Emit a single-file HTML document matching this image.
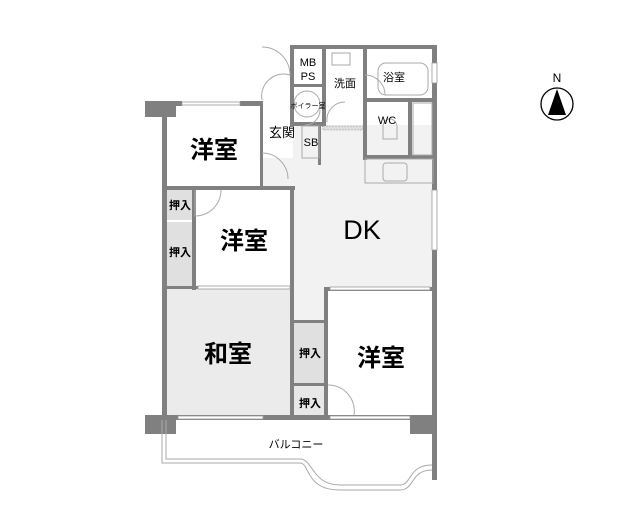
<!DOCTYPE html>
<html><head><meta charset="utf-8"><style>
html,body{margin:0;padding:0;background:#fff;}
svg{display:block;}
text{font-family:"Liberation Sans","Noto Sans CJK JP",sans-serif;fill:#000;}
</style></head><body>
<svg width="635" height="528" viewBox="0 0 635 528" xmlns="http://www.w3.org/2000/svg">
<rect x="165" y="104" width="97" height="84" fill="#fff"/>
<rect x="293" y="125" width="140" height="165" fill="#f2f2f2"/>
<rect x="262" y="158" width="32" height="30" fill="#f2f2f2"/>
<rect x="165" y="288" width="128" height="128" fill="#ebebeb"/>
<rect x="165" y="190" width="30" height="30" fill="#e0e0e0"/>
<rect x="165" y="222" width="30" height="65" fill="#e0e0e0"/>
<rect x="293" y="322" width="33" height="61" fill="#e0e0e0"/>
<rect x="293" y="385" width="33" height="31" fill="#e8e8e8"/>
<rect x="293" y="290" width="33" height="30" fill="#f2f2f2"/>
<g fill="#808080">
<rect x="145" y="101" width="31" height="16"/>
<rect x="162" y="101" width="5" height="318"/>
<rect x="176" y="101" width="6" height="5"/>
<rect x="240" y="101" width="22" height="5"/>
<rect x="260" y="101" width="3" height="88"/>
<rect x="165" y="186" width="130" height="4"/>
<rect x="192" y="190" width="4" height="100"/>
<rect x="290" y="186" width="4" height="232"/>
<rect x="165" y="286" width="128" height="3"/>
<rect x="324" y="287" width="112" height="4"/>
<rect x="324" y="287" width="4" height="130"/>
<rect x="293" y="320" width="34" height="3"/>
<rect x="293" y="383" width="34" height="3"/>
<rect x="145" y="415" width="292" height="5"/>
<rect x="145" y="415" width="31" height="19"/>
<rect x="410" y="415" width="27" height="19"/>
<rect x="432" y="45" width="5" height="435"/>
<rect x="290" y="45" width="146" height="4"/>
<rect x="290" y="45" width="4" height="80"/>
<rect x="322" y="45" width="4" height="82"/>
<rect x="290" y="84" width="35" height="3"/>
<rect x="290" y="122" width="35" height="4"/>
<rect x="363" y="45" width="4" height="115"/>
<rect x="363" y="98" width="72" height="4"/>
<rect x="363" y="155" width="72" height="4"/>
<rect x="408" y="102" width="4" height="55"/>
<rect x="318" y="125" width="3" height="40"/>
</g>
<g fill="#fff" stroke="#999" stroke-width="0.8">
<rect x="182" y="102" width="58" height="3"/>
<rect x="178" y="416" width="85" height="3"/>
<rect x="330" y="416" width="80" height="3"/>
<rect x="432" y="190" width="5" height="60"/>
<rect x="432" y="63" width="5" height="20"/>
<rect x="198" y="286" width="92" height="3"/>
<rect x="330" y="287" width="100" height="3"/>
</g>
<g fill="none" stroke="#aaa" stroke-width="1">
<rect x="302" y="126" width="17" height="32"/>
<rect x="413" y="103" width="19" height="52"/>
<rect x="365" y="159" width="68" height="24"/>
<rect x="383" y="163" width="24" height="18" rx="3"/>
<rect x="378" y="63" width="50" height="32" rx="8"/>
<path d="M383 127 a7 8 0 0 1 14 0 v12 h-14z"/>
<path d="M262 47 a28 28 0 0 1 28 28"/>
<path d="M262 100 a22 22 0 0 1 28 -25"/>
<path d="M262 153 a26 26 0 0 1 26 26"/>
<path d="M195 190 v26 a26 26 0 0 0 26 -26"/>
<path d="M328 385 a26 26 0 0 1 26 30"/>
<path d="M345 102 a18 18 0 0 0 -18 20"/>
<path d="M365 75 a20 20 0 0 1 20 20"/>
<path d="M305 125 a15 15 0 0 0 15 -15"/>
<circle cx="307" cy="104" r="13"/>
<rect x="332" y="53" width="18" height="12"/>
<path d="M162 420 V463 H300 C310 463 305 490 340 490 H400 C415 490 410 470 432 470"/>
<path d="M166 420 V459 H300 C313 459 312 485 340 485 H400 C412 485 408 465 432 465"/>
</g>
<rect x="323" y="126" width="40" height="4" fill="#ddd" stroke="#999" stroke-width="0.5" stroke-dasharray="2 1"/>
<text x="214" y="158" font-size="24" font-weight="bold" text-anchor="middle">洋室</text>
<text x="244" y="249" font-size="24" font-weight="bold" text-anchor="middle">洋室</text>
<text x="228" y="362" font-size="24" font-weight="bold" text-anchor="middle">和室</text>
<text x="381" y="366" font-size="24" font-weight="bold" text-anchor="middle">洋室</text>
<text x="362" y="239" font-size="27" text-anchor="middle">DK</text>
<g font-size="11" text-anchor="middle" font-weight="bold">
<text x="180" y="209">押入</text>
<text x="180" y="256">押入</text>
<text x="310" y="357">押入</text>
<text x="310" y="407">押入</text>
</g>
<g font-size="11" text-anchor="middle">
<text x="308" y="66">MB</text>
<text x="308" y="80">PS</text>
<text x="345" y="87">洗面</text>
<text x="394" y="81">浴室</text>
<text x="387" y="124">WC</text>
<text x="282" y="137" font-size="13">玄関</text>
<text x="311" y="146">SB</text>
<text x="296" y="448">バルコニー</text>
</g>
<text x="308" y="108" font-size="7" text-anchor="middle">ボイラー室</text>
<text x="557" y="82" font-size="12" text-anchor="middle">N</text>
<circle cx="557" cy="104" r="16" fill="none" stroke="#000" stroke-width="1.3"/>
<polygon points="557,89 548,115 566,115" fill="#000"/>
</svg>
</body></html>
